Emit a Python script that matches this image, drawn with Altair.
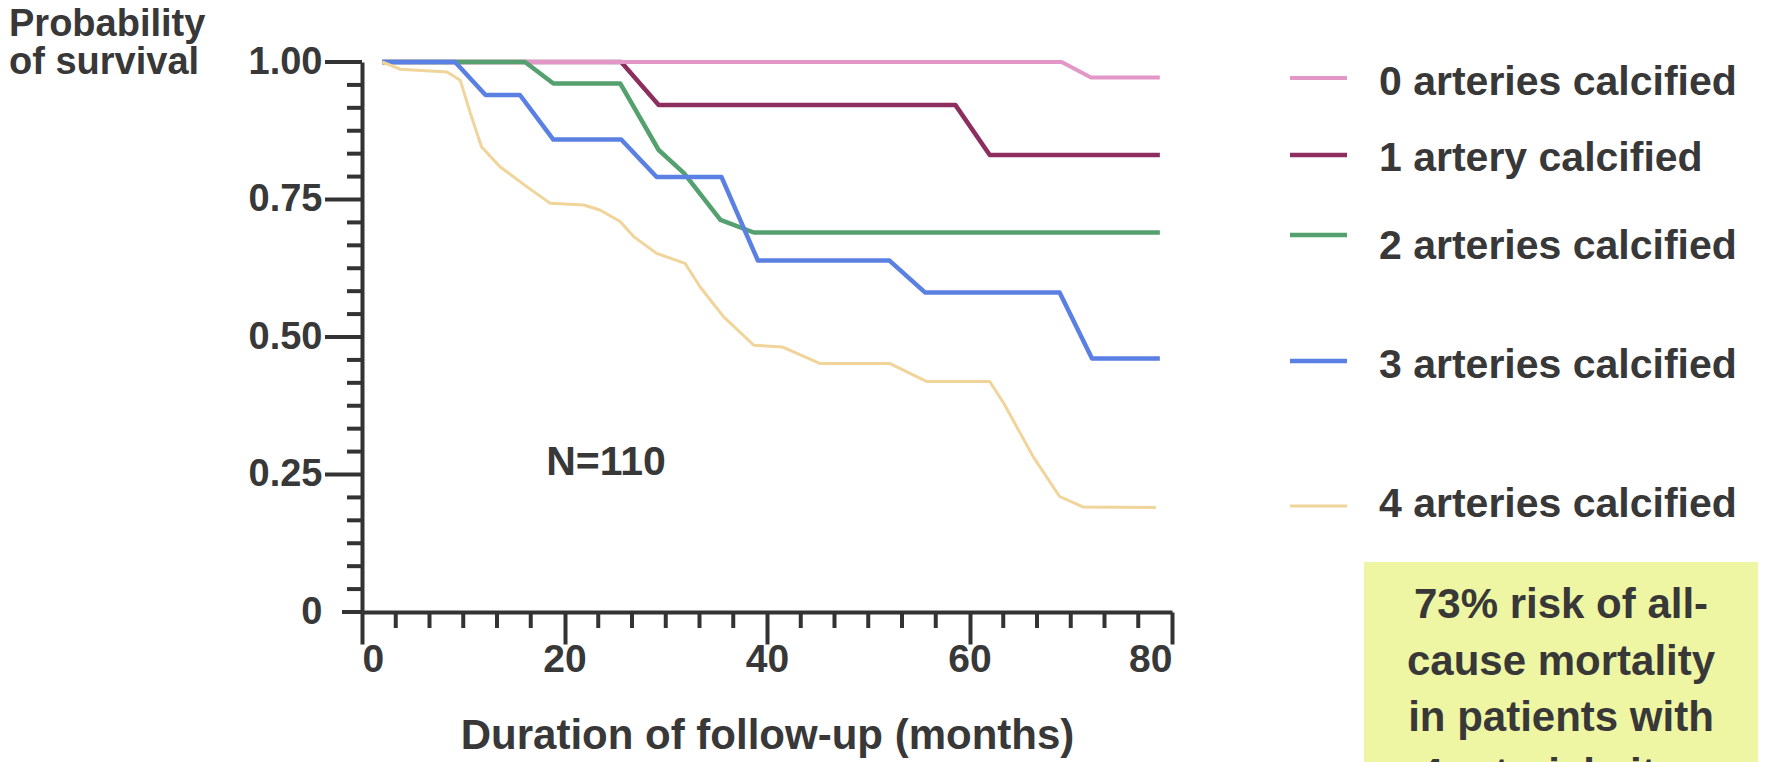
import altair as alt
import pandas as pd

# ---------------- data ----------------
series_labels = ["0 arteries calcified", "1 artery calcified", "2 arteries calcified",
                 "3 arteries calcified", "4 arteries calcified"]
series_colors = ["#e397c6", "#8c2f5e", "#55a06f", "#5b80e3", "#f0d49a"]
series_widths = [4, 4.5, 4.5, 4.5, 3]

months_0 = [2, 69.1, 72.0, 78.8]
surv_0 = [1.0, 1.0, 0.972, 0.972]

months_1 = [2, 25.6, 29.3, 58.6, 62.0, 78.8]
surv_1 = [1.0, 1.0, 0.922, 0.922, 0.831, 0.831]

months_2 = [2, 16.1, 18.9, 25.5, 29.3, 31.8, 35.4, 38.7, 78.8]
surv_2 = [1.0, 1.0, 0.961, 0.961, 0.84, 0.798, 0.713, 0.69, 0.69]

months_3 = [2, 9.2, 12.2, 15.6, 18.9, 25.6, 29.1, 35.5, 39.1, 52.1, 55.6, 68.9, 72.1, 78.8]
surv_3 = [1.0, 1.0, 0.94, 0.94, 0.859, 0.859, 0.791, 0.791, 0.639, 0.639, 0.581, 0.581, 0.461, 0.461]

months_4 = [2, 3.75, 8.4, 9.7, 10.7, 11.8, 13.6, 16.3, 18.6, 21.9, 23.5, 25.5, 26.8, 29.1,
            31.9, 33.4, 35.7, 38.7, 41.5, 45.2, 52.1, 55.8, 62.0, 63.4, 66.3, 68.9, 71.2, 78.4]
surv_4 = [1.0, 0.987, 0.982, 0.967, 0.907, 0.846, 0.81, 0.773, 0.743, 0.74, 0.731, 0.71, 0.683,
          0.652, 0.634, 0.591, 0.537, 0.485, 0.482, 0.452, 0.452, 0.419, 0.419, 0.379, 0.282,
          0.21, 0.191, 0.19]

x_major = [0, 20, 40, 60, 80]
y_major = [0, 0.25, 0.5, 0.75, 1.0]
n_label = "N=110"
n_pos = [24.1, 0.271]
box_lines = ["73% risk of all-", "cause mortality", "in patients with", "4 arterial sites"]
x_title = "Duration of follow-up (months)"
y_title = ["Probability", "of survival"]

# ---------------- layout (pixels) ----------------
W, H = 810, 550
PAD_L, PAD_T = 362, 62
PAD_R, PAD_B = 1766 - PAD_L - W, 762 - PAD_T - H
FONT = "Liberation Sans"
TXT = "#383838"
AX = "#333333"

legend_text_y = [83, 159, 247, 366, 505]
legend_swatch_y = [78, 155, 235, 361, 506]

months_all = [months_0, months_1, months_2, months_3, months_4]
surv_all = [surv_0, surv_1, surv_2, surv_3, surv_4]

xs = alt.Scale(domain=[0, 80], nice=False, zero=False)
ys = alt.Scale(domain=[0, 1], nice=False, zero=False)

# minor tick positions
x_minor = [i * 10 / 3 for i in range(25) if i % 6 != 0]
y_minor = [i * 0.25 / 6 for i in range(25) if i % 6 != 0]

X = lambda **kw: alt.X("month:Q", scale=xs, **kw)
Y = lambda **kw: alt.Y("surv:Q", scale=ys, **kw)

layers = []

# axes carrier (labels, domain, x major ticks)
axis_df = pd.DataFrame({"month": [0, 80], "surv": [0, 1]})
axes = alt.Chart(axis_df).mark_point(opacity=0).encode(
    x=X(axis=alt.Axis(
        values=x_major, title=x_title, format="d", grid=False,
        domainColor=AX, domainWidth=4, tickColor=AX, tickWidth=4, tickSize=32,
        labelFont=FONT, labelFontWeight="bold", labelFontSize=39, labelColor=TXT,
        labelPadding=-4, titleFont=FONT, titleFontWeight="bold", titleFontSize=42,
        titleColor=TXT, titlePadding=36)),
    y=Y(axis=alt.Axis(
        values=y_major, title="", grid=False,
        labelExpr="datum.value == 0 ? '0' : format(datum.value, '.2f')",
        domainColor=AX, domainWidth=4, tickOpacity=0, tickSize=37,
        labelFont=FONT, labelFontWeight="bold", labelFontSize=38, labelColor=TXT,
        labelPadding=3)),
)
layers.append(axes)

# y major ticks (visible), x-axis extension at 0
layers.append(alt.Chart(pd.DataFrame({"surv": [v for v in y_major if v > 0]}))
              .mark_rule(color=AX, strokeWidth=4)
              .encode(y=Y(), x=alt.value(-37), x2=alt.value(0)))
layers.append(alt.Chart(pd.DataFrame({"surv": [0]}))
              .mark_rule(color=AX, strokeWidth=4)
              .encode(y=Y(), x=alt.value(-20), x2=alt.value(0)))

# minor ticks
layers.append(alt.Chart(pd.DataFrame({"surv": y_minor}))
              .mark_rule(color=AX, strokeWidth=4)
              .encode(y=Y(), x=alt.value(-15), x2=alt.value(0)))
layers.append(alt.Chart(pd.DataFrame({"month": x_minor}))
              .mark_rule(color=AX, strokeWidth=4)
              .encode(x=X(), y=alt.value(H), y2=alt.value(H + 16)))

# survival curves, drawn in stacking order of the reference
for idx in [1, 0, 2, 3, 4]:
    d = pd.DataFrame({"month": months_all[idx], "surv": surv_all[idx]})
    layers.append(alt.Chart(d).mark_line(
        color=series_colors[idx], strokeWidth=series_widths[idx],
        strokeJoin="round", strokeCap="butt").encode(x=X(), y=Y()))

# N=110 annotation
layers.append(alt.Chart(pd.DataFrame({"month": [n_pos[0]], "surv": [n_pos[1]], "t": [n_label]}))
              .mark_text(font=FONT, fontWeight="bold", fontSize=41, color=TXT,
                         align="center", baseline="middle")
              .encode(x=X(), y=Y(), text="t:N"))

one = pd.DataFrame({"k": [0]})

# y title (two lines in one text mark)
layers.append(alt.Chart(one).mark_text(
    text=y_title, font=FONT, fontWeight="bold", fontSize=38, lineHeight=38, color=TXT,
    align="left", baseline="alphabetic").encode(
    x=alt.value(9 - PAD_L), y=alt.value(36 - PAD_T)))

# manual legend
for i in range(5):
    layers.append(alt.Chart(one).mark_rule(color=series_colors[i], strokeWidth=series_widths[i]).encode(
        x=alt.value(1290 - PAD_L), x2=alt.value(1347 - PAD_L),
        y=alt.value(legend_swatch_y[i] - PAD_T)))
    layers.append(alt.Chart(one).mark_text(
        text=series_labels[i], font=FONT, fontWeight="bold", fontSize=41, color=TXT,
        align="left", baseline="middle").encode(
        x=alt.value(1379 - PAD_L), y=alt.value(legend_text_y[i] - PAD_T)))

# highlighted box
layers.append(alt.Chart(one).mark_rect(color="#eef5a3").encode(
    x=alt.value(1364 - PAD_L), x2=alt.value(1758 - PAD_L),
    y=alt.value(562 - PAD_T), y2=alt.value(900 - PAD_T)))
for line, yc in zip(box_lines, [605, 662, 718, 775]):
    layers.append(alt.Chart(one).mark_text(
        text=line, font=FONT, fontWeight="bold", fontSize=42, color=TXT,
        align="center", baseline="middle").encode(
        x=alt.value(1561 - PAD_L), y=alt.value(yc - PAD_T)))

chart = alt.layer(*layers).properties(
    width=W, height=H,
    autosize=alt.AutoSizeParams(type="none"),
    padding={"left": PAD_L, "top": PAD_T, "right": PAD_R, "bottom": PAD_B},
    background="white",
).configure_view(stroke=None)

chart.save("out.html", embed_options={"renderer": "svg", "actions": False})
